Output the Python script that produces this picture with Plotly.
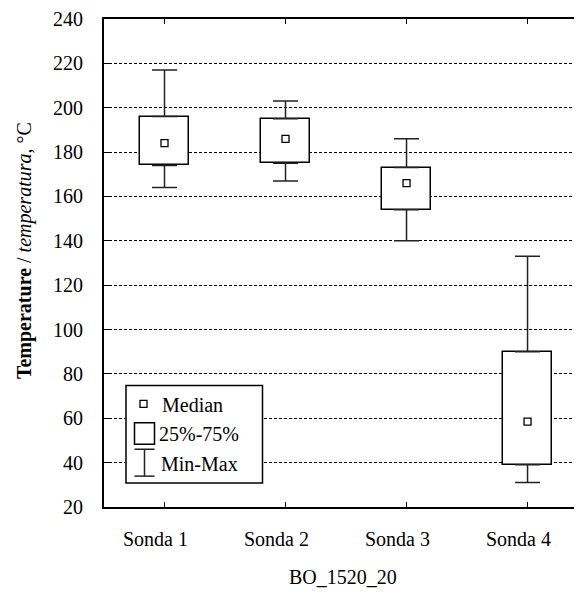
import plotly.graph_objects as go

# ---- data ----
categories = ["Sonda 1", "Sonda 2", "Sonda 3", "Sonda 4"]
minimum = [164, 167, 140, 31]
q1 = [174, 175, 154, 39]
median = [184, 186, 166, 58.5]
q3 = [196, 195, 173, 90]
maximum = [217, 203, 186, 133]
y_ticks = list(range(20, 241, 20))

FONT = "Liberation Serif, Times New Roman, serif"
OFF = 8  # page body margin offset
W, H = 574, 584
ML, MR, MT, MB = 96, 0, 9, 85
PW, PH = W - ML - MR, H - MT - MB


def px2paper(x, y):
    """page pixel -> paper coordinates"""
    x -= OFF
    y -= OFF
    return (x - ML) / PW, (H - MB - y) / PH


fig = go.Figure()

# 25%-75% boxes
fig.add_trace(go.Bar(
    x=categories,
    base=q1,
    y=[b - a for a, b in zip(q1, q3)],
    width=0.4,
    marker=dict(color="white", line=dict(color="black", width=1.5)),
    showlegend=False,
))

# upper whiskers
fig.add_trace(go.Scatter(
    x=categories, y=q3, mode="markers",
    marker=dict(size=1, color="rgba(0,0,0,0)"),
    error_y=dict(type="data", symmetric=False,
                 array=[m - b for b, m in zip(q3, maximum)],
                 arrayminus=[0] * len(q3),
                 color="#222", thickness=1.5, width=12.5),
    showlegend=False,
))
# lower whiskers
fig.add_trace(go.Scatter(
    x=categories, y=q1, mode="markers",
    marker=dict(size=1, color="rgba(0,0,0,0)"),
    error_y=dict(type="data", symmetric=False,
                 array=[0] * len(q1),
                 arrayminus=[a - m for a, m in zip(q1, minimum)],
                 color="#222", thickness=1.5, width=12.5),
    showlegend=False,
))
# medians
fig.add_trace(go.Scatter(
    x=categories, y=median, mode="markers",
    marker=dict(symbol="square", size=7, color="white",
                line=dict(color="black", width=1.3)),
    showlegend=False,
))

# ---- manual legend ----
shapes = []
annotations = []
x0, y0 = px2paper(126, 385)
x1, y1 = px2paper(262.5, 483)
shapes.append(dict(type="rect", xref="paper", yref="paper", x0=x0, y0=y0, x1=x1, y1=y1,
                   line=dict(color="black", width=1.5), fillcolor="white", layer="above"))
# median glyph
a, b = px2paper(140, 400)
c, d = px2paper(147, 407)
shapes.append(dict(type="rect", xref="paper", yref="paper", x0=a, y0=b, x1=c, y1=d,
                   line=dict(color="black", width=1.3), fillcolor="white", layer="above"))
# box glyph
a, b = px2paper(134.5, 422.5)
c, d = px2paper(154.5, 444)
shapes.append(dict(type="rect", xref="paper", yref="paper", x0=a, y0=b, x1=c, y1=d,
                   line=dict(color="black", width=1.5), fillcolor="white", layer="above"))
# min-max glyph
for (xa, ya, xb, yb) in [(144.5, 449, 144.5, 476), (134.5, 449, 154.5, 449), (134.5, 476, 154.5, 476)]:
    a, b = px2paper(xa, ya)
    c, d = px2paper(xb, yb)
    shapes.append(dict(type="line", xref="paper", yref="paper", x0=a, y0=b, x1=c, y1=d,
                       line=dict(color="#222", width=1.5), layer="above"))

for label, (lx, ly) in [("Median", (160, 405)), ("25%-75%", (157, 434)), ("Min-Max", (159, 464))]:
    a, b = px2paper(lx, ly)
    annotations.append(dict(text=label, xref="paper", yref="paper", x=a, y=b,
                            xanchor="left", yanchor="middle", showarrow=False,
                            font=dict(family=FONT, size=20, color="black")))

# category labels (slightly left of their ticks, as in the original)
for cat in categories:
    annotations.append(dict(text=cat, xref="x", yref="paper", x=cat, y=0,
                            xanchor="center", yanchor="middle", xshift=-9, yshift=-32,
                            showarrow=False, font=dict(family=FONT, size=20, color="black")))

# x-axis title
a, b = px2paper(343, 577)
annotations.append(dict(text="BO_1520_20", xref="paper", yref="paper", x=a, y=b,
                        xanchor="center", yanchor="middle", showarrow=False,
                        font=dict(family=FONT, size=20, color="black")))

# y-axis title
a, b = px2paper(24, 250)
annotations.append(dict(text="<b>Temperature</b> / <i>temperatura</i>, °C",
                        xref="paper", yref="paper", x=a, y=b, textangle=-90,
                        xanchor="center", yanchor="middle", showarrow=False,
                        font=dict(family=FONT, size=20, color="black")))

fig.update_layout(
    width=W, height=H,
    margin=dict(l=ML, r=MR, t=MT, b=MB, pad=0),
    paper_bgcolor="white", plot_bgcolor="white",
    font=dict(family=FONT, size=20, color="black"),
    shapes=shapes, annotations=annotations,
    bargap=0,
    xaxis=dict(
        type="category", range=[-0.5, 3.45],
        showline=True, linecolor="black", linewidth=2, mirror="ticks",
        ticks="inside", ticklen=5, tickcolor="black", tickwidth=1,
        showgrid=False, zeroline=False, showticklabels=False,
    ),
    yaxis=dict(
        range=[20, 240], tickvals=y_ticks, ticktext=[str(v) for v in y_ticks],
        showline=True, linecolor="black", linewidth=2, mirror=False,
        ticks="inside", ticklen=5, tickcolor="black", tickwidth=1,
        showgrid=True, gridcolor="black", gridwidth=1, griddash="3px,2px",
        zeroline=False,
        tickfont=dict(family=FONT, size=20),
        ticklabelstandoff=15, ticklabeloverflow="allow",
    ),
)

fig.write_html("out.html")
